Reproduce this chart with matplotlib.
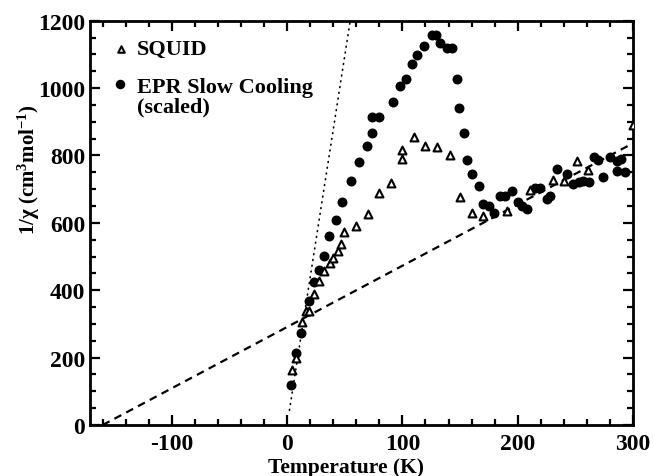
import numpy as np
import matplotlib
matplotlib.use("Agg")
import matplotlib.pyplot as plt
from matplotlib.ticker import MultipleLocator

# ---- data ----
squid_T = [4, 8, 13, 16, 19, 23, 28, 32, 37, 40, 44, 47, 49, 60, 70, 80, 90,
           100, 100, 110, 120, 130, 141, 150, 160, 170, 191, 211, 231, 240,
           251, 261, 300]
squid_V = [164, 198, 305, 339, 339, 389, 426, 458, 482, 495, 517, 538, 573,
           590, 626, 690, 718, 790, 816, 854, 829, 826, 800, 677, 630, 619,
           636, 698, 728, 725, 783, 757, 891]

epr_T = [3, 8, 12, 19, 23, 28, 32, 36, 42, 48, 55, 62, 69, 74, 74, 80, 92, 98,
         103, 108, 113, 119, 126, 129, 133, 139, 143, 147, 149, 153, 156, 160,
         166, 170, 175, 179, 185, 189, 195, 200, 204, 208, 215, 219, 225, 228,
         234, 243, 248, 253, 257, 262, 266, 270, 274, 280, 286, 290, 286, 293]
epr_V = [119, 214, 273, 369, 423, 461, 501, 562, 607, 661, 725, 781, 829, 868,
         913, 913, 959, 1007, 1027, 1071, 1098, 1126, 1157, 1157, 1133, 1118,
         1118, 1027, 940, 866, 788, 745, 710, 655, 650, 630, 680, 681, 694, 661,
         651, 641, 703, 703, 672, 679, 759, 745, 715, 721, 725, 720, 794, 786,
         735, 795, 784, 789, 755, 752]

# Curie-Weiss fit lines: 1/chi = (T - theta) / C
cw_hi = {"C": 0.55, "theta": -160.0, "T_range": (-160, 300)}
cw_lo = {"C": 0.0456, "theta": 0.0, "T_range": (2, 60)}

x_ticks = [-100, 0, 100, 200, 300]
y_ticks = [0, 200, 400, 600, 800, 1000, 1200]

legend_labels = ["SQUID", "EPR Slow Cooling", "(scaled)"]

# ---- style ----
plt.rcParams["font.family"] = ["Liberation Serif", "DejaVu Serif"]
plt.rcParams["font.weight"] = "bold"
plt.rcParams["axes.unicode_minus"] = False
plt.rcParams["mathtext.fontset"] = "custom"
plt.rcParams["mathtext.rm"] = "Liberation Serif:bold"
plt.rcParams["mathtext.it"] = "Liberation Serif:bold"
plt.rcParams["mathtext.bf"] = "Liberation Serif:bold"

fig = plt.figure(figsize=(6.53, 4.77), dpi=100)
ax = fig.add_axes([0.1378, 0.1069, 0.9694 - 0.1378, 0.9545 - 0.1069])

# fit lines
t1 = np.linspace(*cw_hi["T_range"], 200)
ax.plot(t1, (t1 - cw_hi["theta"]) / cw_hi["C"], color="black", lw=1.6,
        dashes=(3.5, 2.5))
t2 = np.linspace(*cw_lo["T_range"], 200)
ax.plot(t2, (t2 - cw_lo["theta"]) / cw_lo["C"], color="black", lw=1.2,
        dashes=(0.5, 3.0), dash_capstyle="round")

ax.scatter(epr_T, epr_V, s=38, marker="o", color="black", zorder=3)
ax.scatter(squid_T, squid_V, s=32, marker="^", facecolor="white",
           edgecolor="black", linewidths=1.5, zorder=4)

ax.set_xlim(-171, 300)
ax.set_ylim(0, 1200)
ax.set_xticks(x_ticks)
ax.set_yticks(y_ticks)
ax.xaxis.set_minor_locator(MultipleLocator(20))
ax.yaxis.set_minor_locator(MultipleLocator(50))
ax.tick_params(which="both", direction="in", top=True, right=True,
               labelsize=17, width=1.6)
ax.tick_params(which="major", length=7)
ax.tick_params(which="minor", length=4)
ax.tick_params(axis="x", which="major", pad=6)
for lab in ax.get_xticklabels() + ax.get_yticklabels():
    lab.set_fontweight("bold")
for sp in ax.spines.values():
    sp.set_linewidth(2.0)

ax.set_xlabel("Temperature (K)", fontsize=15.5, fontweight="bold")
ax.xaxis.set_label_coords(0.471, -0.078)
ax.set_ylabel(r"1/χ (cm$^{3}$mol$^{-1}$)", fontsize=15, fontweight="bold")
ax.yaxis.set_label_coords(-0.088, 0.633)

# legend drawn manually to match the original layout
ax.scatter([0.0565], [0.930], s=22, marker="^", facecolor="white",
           edgecolor="black", linewidths=1.5, transform=ax.transAxes,
           clip_on=False)
ax.scatter([0.0555], [0.843], s=34, marker="o", color="black",
           transform=ax.transAxes, clip_on=False)
ax.text(0.086, 0.930, legend_labels[0], transform=ax.transAxes, fontsize=16,
        fontweight="bold", va="center")
ax.text(0.086, 0.836, legend_labels[1], transform=ax.transAxes, fontsize=16,
        fontweight="bold", va="center")
ax.text(0.086, 0.787, legend_labels[2], transform=ax.transAxes, fontsize=16,
        fontweight="bold", va="center")

fig.savefig("out.png", dpi=100)
